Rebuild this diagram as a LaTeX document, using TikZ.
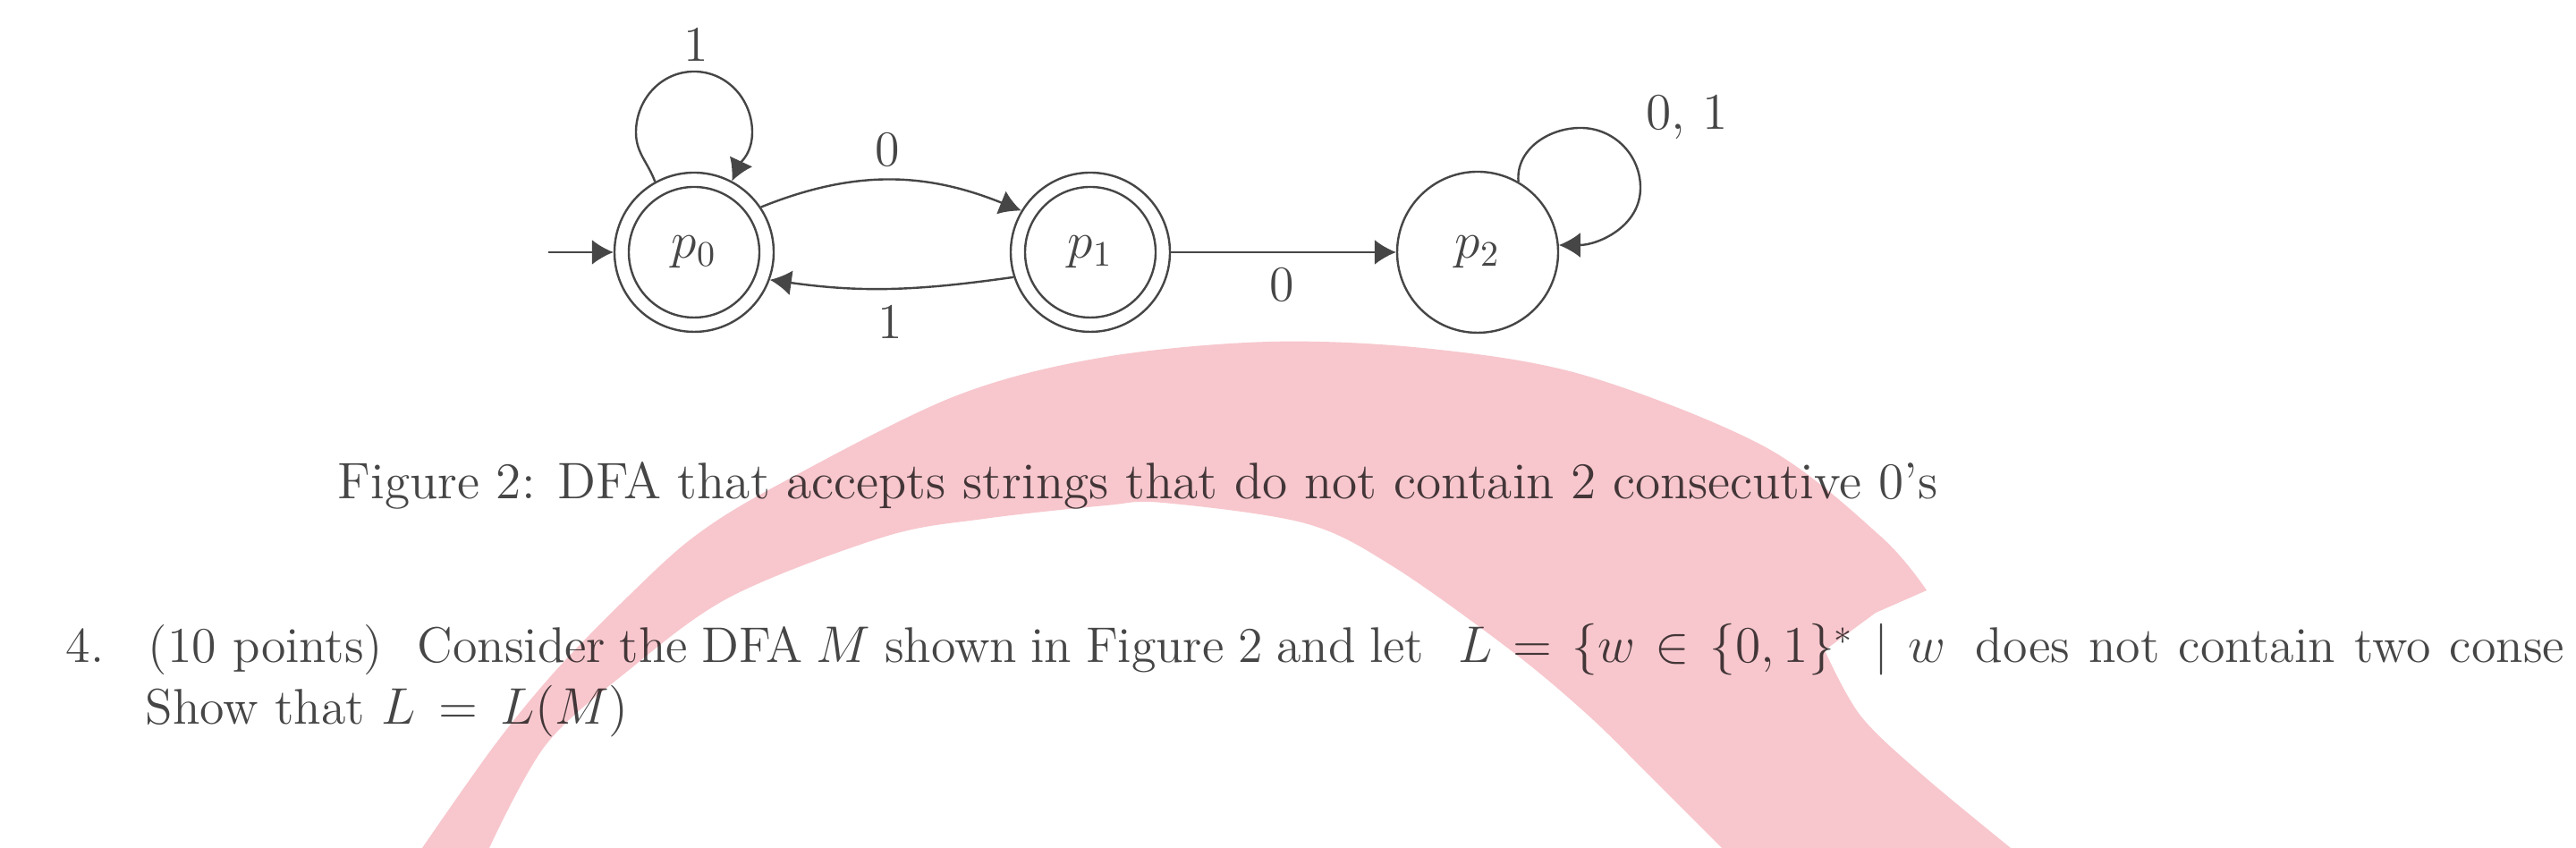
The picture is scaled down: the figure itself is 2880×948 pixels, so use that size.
\documentclass[tikz,border=0pt]{standalone}
\usetikzlibrary{arrows.meta}
\definecolor{ink}{RGB}{70,70,70}
\definecolor{wm}{RGB}{247,199,205}
\begin{document}
\begin{tikzpicture}[x=0.25pt,y=0.25pt,
  state/.style={circle,draw=ink,line width=0.6pt,minimum size=44.5pt,inner sep=0pt,text=ink,font=\fontsize{14}{16}\selectfont},
  tr/.style={draw=ink,line width=0.6pt,-{Latex[length=6pt,width=7pt]}},
  ring/.style={draw=ink,line width=0.6pt},
  lbl/.style={font=\fontsize{14}{16}\selectfont,text=ink,inner sep=0pt},
  txt/.style={font=\fontsize{14}{17}\selectfont,text=ink,inner sep=0pt}]
\useasboundingbox (0,0) rectangle (2880,948);
\clip (0,0) rectangle (2880,948);
\fill[white] (0,0) rectangle (2880,948);
% states
\node[state] (p0) at (776,666) {$p_0$};
\node[state] (p1) at (1219,666) {$p_1$};
\node[state,minimum size=45pt] (p2) at (1652,666) {$p_2$};
\draw[ring] (p0.center) circle[radius=18.25pt];
\draw[ring] (p1.center) circle[radius=18.25pt];
% transitions
\coordinate (start) at (613,666);
\draw[tr] (start) -- (p0);
\draw[tr] (p0.119) to[out=110,in=-90] (711,800) to[out=90,in=180] (776,868) to[out=0,in=90] (841,800) to[out=-90,in=65] (p0.62);
\draw[tr] (p0.34) to[out=22,in=158] (p1.149);
\draw[tr] (p1.198) to[out=188,in=-8] (p0.340);
\draw[tr] (p1) -- (p2);
\draw[tr] (p2.60) to[out=95,in=180] (1767,805) to[out=0,in=90] (1834,738) to[out=-90,in=0] (p2.5);
% labels
\node[lbl] (l1) at (778,898) {1};
\node[lbl] (l2) at (992,781) {0};
\node[lbl] (l3) at (995,588) {1};
\node[lbl] (l4) at (1433,630) {0};
\node[lbl] (l5) at (1886,816) {$0,\,1$};
% text
\node[txt,anchor=base west,font=\fontsize{14.35}{17}\selectfont] (cap) at (377,390) {Figure 2: DFA that accepts strings that do not contain 2 consecutive 0's};
\node[txt,anchor=base west] (num) at (73,207) {4.};
\node[txt,anchor=base west] (q1a) at (165,207) {(10 points)};
\node[txt,anchor=base west] (q1b) at (466,207) {\spaceskip=3.9pt plus 1pt minus 1pt Consider the DFA $M$ shown in Figure 2 and let};
\node[txt,anchor=base west] (q1c) at (1630,207) {\thickmuskip=7mu $L=\{w\in\{0,1\}^*\mid w$};
\node[txt,anchor=base west] (q1d) at (2208,207) {\spaceskip=5.3pt plus 1pt minus 1pt does not contain two conse};
\node[txt,anchor=base west] (q2) at (162,138) {\thickmuskip=8mu Show that $L=L(M)$};
% watermark
\begin{scope}[blend mode=multiply]
\fill[wm] plot[smooth,tension=0.55] coordinates {(472,0) (553,115) (621,198) (702,281) (776,348) (868,405) (1065,504) (1230,548) (1420,566) (1600,558) (1773,528) (1974,448) (2103,348) (2154,288)}
  -- (2097,263)
  -- plot[smooth,tension=0.55] coordinates {(2040,221) (2080,148) (2150,81) (2248,0)}
  -- (1925,0)
  -- plot[smooth,tension=0.55] coordinates {(1925,0) (1844,81) (1776,148) (1689,221) (1557,315) (1459,363) (1300,386) (1237,383) (1100,368) (989,348) (817,281) (702,198) (610,115) (547,0)}
  -- cycle;
\end{scope}
\end{tikzpicture}
\end{document}
